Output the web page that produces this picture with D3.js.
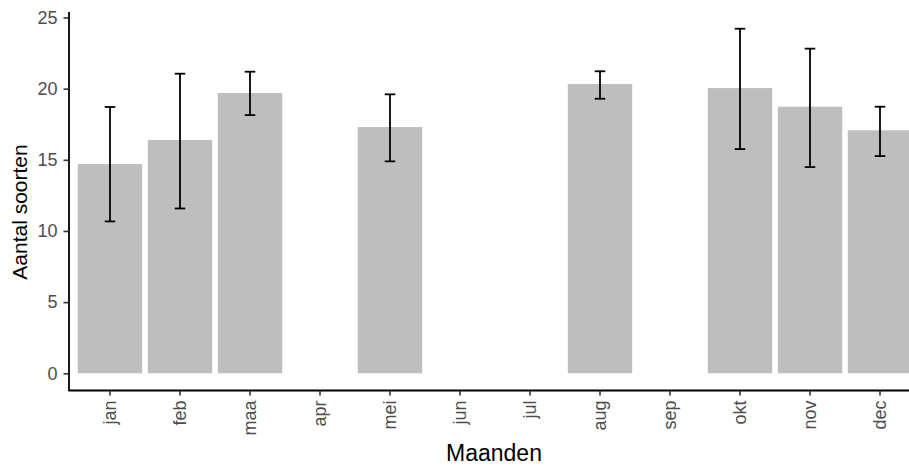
<!DOCTYPE html>
<html>
<head>
<meta charset="utf-8">
<script src="https://cdn.jsdelivr.net/npm/d3@7"></script>
<style>
  html, body { margin: 0; padding: 0; background: #fff; }
  svg { display: block; }
  text { font-family: "Liberation Sans", Arial, sans-serif; }
</style>
</head>
<body>
<svg id="chart" width="909" height="468"></svg>
<script>
const months = ["jan","feb","maa","apr","mei","jun","jul","aug","sep","okt","nov","dec"];
const meanValues = [14.70, 16.39, 19.69, null, 17.30, null, null, 20.32, null, 20.04, 18.73, 17.07];
const lowerValues = [10.67, 11.58, 18.14, null, 14.89, null, null, 19.29, null, 15.75, 14.49, 15.26];
const upperValues = [18.71, 21.05, 21.19, null, 19.60, null, null, 21.22, null, 24.21, 22.81, 18.73];
const yTicks = [0, 5, 10, 15, 20, 25];
const xTitle = "Maanden";
const yTitle = "Aantal soorten";

const rows = months.map((m, i) => ({ m, v: meanValues[i], lo: lowerValues[i], hi: upperValues[i] }));
const present = rows.filter(d => d.v != null);

const svg = d3.select("#chart");

const yMax = d3.max(present, d => d.hi);
const y = d3.scaleLinear().domain([-0.05 * yMax, yMax * 1.05]).range([390.5, 11.5]);
const x = d3.scaleBand().domain(months).range([75, 915]).padding(0);
const bw = x.bandwidth();
const barW = bw * 0.92;
const capW = bw * 0.15;

// bars
svg.append("g").selectAll("rect").data(present).join("rect")
  .attr("x", d => x(d.m) + (bw - barW) / 2)
  .attr("width", barW)
  .attr("y", d => y(d.v))
  .attr("height", d => y(0) - y(d.v))
  .attr("fill", "#bebebe");

// error bars
const eb = svg.append("g").attr("stroke", "#000").attr("stroke-width", 1.8).attr("fill", "none");
present.forEach(d => {
  const cx = x(d.m) + bw / 2;
  eb.append("line").attr("x1", cx).attr("x2", cx).attr("y1", y(d.lo)).attr("y2", y(d.hi));
  eb.append("line").attr("x1", cx - capW / 2).attr("x2", cx + capW / 2).attr("y1", y(d.lo)).attr("y2", y(d.lo));
  eb.append("line").attr("x1", cx - capW / 2).attr("x2", cx + capW / 2).attr("y1", y(d.hi)).attr("y2", y(d.hi));
});

// y axis
const yAxis = svg.append("g").attr("transform", "translate(68.5,0)")
  .call(d3.axisLeft(y).tickValues(yTicks).tickSize(5).tickPadding(6).tickSizeOuter(0));
yAxis.select(".domain").attr("stroke", "#000").attr("stroke-width", 1.8);
yAxis.selectAll(".tick line").attr("stroke", "#333").attr("stroke-width", 1.6);
yAxis.selectAll(".tick text").attr("fill", "#4d4d4d").style("font-size", "18px");

// x axis
const xAxis = svg.append("g").attr("transform", "translate(0,390.5)")
  .call(d3.axisBottom(x).tickSize(5).tickPadding(3).tickSizeOuter(0));
xAxis.select(".domain").attr("stroke", "#000").attr("stroke-width", 1.8)
  .attr("d", "M68.5,0H909");
xAxis.selectAll(".tick line").attr("stroke", "#333").attr("stroke-width", 1.6);
xAxis.selectAll(".tick text")
  .attr("fill", "#4d4d4d").style("font-size", "18px")
  .attr("transform", "rotate(-90)")
  .attr("text-anchor", "end")
  .attr("x", -10).attr("y", 0).attr("dy", "0.35em");

// titles
svg.append("text").attr("x", 494).attr("y", 461).attr("text-anchor", "middle")
  .style("font-size", "23px").attr("fill", "#000").text(xTitle);
svg.append("text").attr("transform", "translate(27,212) rotate(-90)").attr("text-anchor", "middle")
  .style("font-size", "21px").attr("fill", "#000").text(yTitle);
</script>
</body>
</html>
